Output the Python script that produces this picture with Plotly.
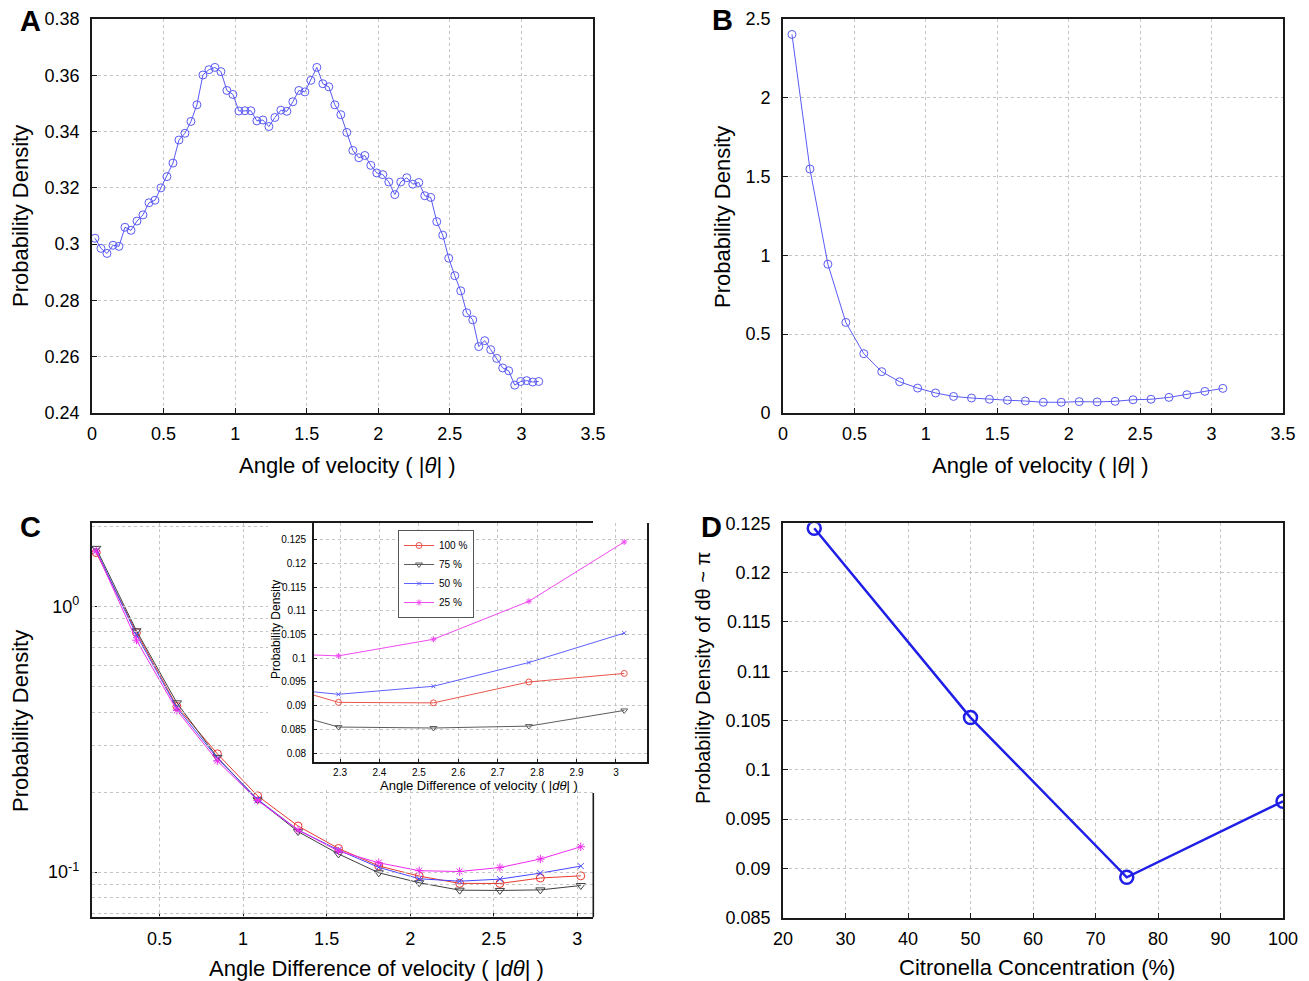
import math
import plotly.graph_objects as go

# ---------------- data ----------------
# Panel A
a_x = [0.0209, 0.0628, 0.1047, 0.1466, 0.1885, 0.2304, 0.2723, 0.3142, 0.3560, 0.3979,
       0.4398, 0.4817, 0.5236, 0.5655, 0.6074, 0.6493, 0.6912, 0.7330, 0.7749, 0.8168,
       0.8587, 0.9006, 0.9425, 0.9844, 1.0263, 1.0681, 1.1100, 1.1519, 1.1938, 1.2357,
       1.2776, 1.3195, 1.3614, 1.4032, 1.4451, 1.4870, 1.5289, 1.5708, 1.6127, 1.6546,
       1.6965, 1.7384, 1.7802, 1.8221, 1.8640, 1.9059, 1.9478, 1.9897, 2.0316, 2.0735,
       2.1153, 2.1572, 2.1991, 2.2410, 2.2829, 2.3248, 2.3667, 2.4086, 2.4504, 2.4923,
       2.5342, 2.5761, 2.6180, 2.6599, 2.7018, 2.7437, 2.7855, 2.8274, 2.8693, 2.9112,
       2.9531, 2.9950, 3.0369, 3.0788, 3.1206]
a_y = [0.3021, 0.2985, 0.2967, 0.2996, 0.2992, 0.3060, 0.3049, 0.3082, 0.3104, 0.3147,
       0.3156, 0.3200, 0.3240, 0.3288, 0.3370, 0.3394, 0.3436, 0.3495, 0.3601, 0.3620,
       0.3628, 0.3613, 0.3546, 0.3532, 0.3473, 0.3474, 0.3474, 0.3438, 0.3441, 0.3418,
       0.3450, 0.3476, 0.3472, 0.3506, 0.3546, 0.3541, 0.3582, 0.3628, 0.3570, 0.3559,
       0.3495, 0.3460, 0.3397, 0.3333, 0.3307, 0.3315, 0.3280, 0.3253, 0.3247, 0.3221,
       0.3176, 0.3221, 0.3236, 0.3213, 0.3219, 0.3172, 0.3166, 0.3080, 0.3032, 0.2950,
       0.2888, 0.2834, 0.2756, 0.2731, 0.2636, 0.2657, 0.2625, 0.2594, 0.2560, 0.2550,
       0.2499, 0.2512, 0.2515, 0.2510, 0.2512]

# Panel B
b_x = [0.0628, 0.1885, 0.3142, 0.4398, 0.5655, 0.6912, 0.8168, 0.9425, 1.0681, 1.1938,
       1.3195, 1.4451, 1.5708, 1.6965, 1.8221, 1.9478, 2.0735, 2.1991, 2.3248, 2.4504,
       2.5761, 2.7018, 2.8274, 2.9531, 3.0788]
b_y = [2.399, 1.546, 0.943, 0.574, 0.376, 0.262, 0.198, 0.158, 0.127, 0.105,
       0.095, 0.087, 0.081, 0.076, 0.068, 0.068, 0.072, 0.070, 0.074, 0.084,
       0.087, 0.099, 0.116, 0.137, 0.156]

# Panel C (main and inset share the same data)
c_x = [0.121, 0.362, 0.604, 0.846, 1.087, 1.329, 1.571, 1.812, 2.054, 2.296, 2.537, 2.779, 3.021]
c_100 = [1.59, 0.796, 0.420, 0.2785, 0.1935, 0.149, 0.1227, 0.1055, 0.0966, 0.0907, 0.0906, 0.0950, 0.0968]
c_75 = [1.65, 0.808, 0.433, 0.270, 0.187, 0.142, 0.117, 0.0994, 0.0912, 0.0855, 0.0853, 0.0857, 0.0890]
c_50 = [1.62, 0.780, 0.415, 0.268, 0.1876, 0.144, 0.121, 0.1042, 0.0944, 0.0924, 0.0941, 0.0991, 0.1053]
c_25 = [1.61, 0.745, 0.406, 0.262, 0.186, 0.144, 0.120, 0.1084, 0.1012, 0.1005, 0.1040, 0.1120, 0.1245]
c_labels = ["100 %", "75 %", "50 %", "25 %"]

# Panel D
d_x = [25, 50, 75, 100]
d_y = [0.1245, 0.1053, 0.0891, 0.0968]

# log-axis ticks for panel C
c_major = [0.1, 1]
c_major_text = ["10<sup>-1</sup>", "10<sup>0</sup>"]
c_minor = [0.07, 0.08, 0.09, 0.2, 0.3, 0.4, 0.5, 0.6, 0.7, 0.8, 0.9, 2]

# ---------------- layout helpers ----------------
W, H = 1309, 981
def fx(p):
    return p / W
def fy(p):
    return 1 - p / H

FONT = "Liberation Sans, Arial, Helvetica, sans-serif"
AXC = "#1a1a1a"
GRID = "#c4c4c4"

def ax(domain, rng, dtick=None, size=18, mirror=True, standoff=7, **kw):
    d = dict(domain=domain, range=rng, showline=True, linecolor=AXC, linewidth=1.6,
             mirror=mirror, ticks="inside", ticklen=5, tickcolor=AXC, tickwidth=1,
             showgrid=True, gridcolor=GRID, griddash="dot", gridwidth=1, zeroline=False,
             ticklabelstandoff=standoff,
             tickfont=dict(size=size, color="black", family=FONT))
    if dtick is not None:
        d["dtick"] = dtick
        d["tick0"] = 0
    d.update(kw)
    return d

def gridonly(domain, rng, **kw):
    d = dict(domain=domain, range=rng, showline=False, ticks="", showticklabels=False,
             showgrid=True, gridcolor=GRID, griddash="dot", gridwidth=1, zeroline=False,
             fixedrange=True)
    d.update(kw)
    return d

fig = go.Figure()

# empty traces so the grid-only helper axes of panel C are drawn
fig.add_trace(go.Scatter(x=[], y=[], xaxis="x6", yaxis="y6", showlegend=False, hoverinfo="skip"))
fig.add_trace(go.Scatter(x=[], y=[], xaxis="x7", yaxis="y7", showlegend=False, hoverinfo="skip"))

blue_ab = "#5a5af5"
fig.add_trace(go.Scatter(x=a_x, y=a_y, mode="lines+markers", xaxis="x", yaxis="y",
                         line=dict(color=blue_ab, width=1),
                         marker=dict(symbol="circle-open", size=8, color=blue_ab, line=dict(width=1)),
                         showlegend=False))
fig.add_trace(go.Scatter(x=b_x, y=b_y, mode="lines+markers", xaxis="x2", yaxis="y2",
                         line=dict(color=blue_ab, width=1),
                         marker=dict(symbol="circle-open", size=8, color=blue_ab, line=dict(width=1)),
                         showlegend=False))

styles = [
    (c_100, "#e8392f", "circle-open", 8),
    (c_75, "#404040", "triangle-down-open", 8),
    (c_50, "#4545ff", "x-thin-open", 6),
    (c_25, "#ee2bee", "asterisk-open", 7),
]
for (vals, col, sym, sz), lab in zip(styles, c_labels):
    fig.add_trace(go.Scatter(x=c_x, y=vals, mode="lines+markers", xaxis="x3", yaxis="y3",
                             line=dict(color=col, width=1),
                             marker=dict(symbol=sym, size=sz, color=col, line=dict(width=1, color=col)),
                             showlegend=False))
for (vals, col, sym, sz), lab in zip(styles, c_labels):
    fig.add_trace(go.Scatter(x=c_x, y=vals, mode="lines+markers", xaxis="x5", yaxis="y5",
                             name=lab, opacity=0.85,
                             line=dict(color=col, width=1),
                             marker=dict(symbol=sym, size=sz - 2, color=col, line=dict(width=1, color=col)),
                             showlegend=True))

fig.add_trace(go.Scatter(x=d_x, y=d_y, mode="lines+markers", xaxis="x4", yaxis="y4",
                         line=dict(color="#1f1fe8", width=2.5),
                         marker=dict(symbol="circle-open", size=13, color="#1f1fe8", line=dict(width=2.5)),
                         showlegend=False))

# domains (pixel positions measured on the reference)
dA_x = [fx(92), fx(593)];   dA_y = [fy(413), fy(19)]
dB_x = [fx(783), fx(1283)]; dB_y = [fy(413), fy(18.5)]
C_L, C_R, C_T, C_B = 91.7, 593.3, 523.3, 917.3
dC_x = [fx(C_L), fx(C_R)]; dC_y = [fy(C_B), fy(C_T)]
dD_x = [fx(783), fx(1283)]; dD_y = [fy(917.7), fy(523.3)]
dI_x = [fx(314), fx(646.7)]; dI_y = [fy(761.7), fy(523)]

c_xr = [0.094, 3.096]
c_yr = [math.log10(0.0676), math.log10(2.05)]
def c_xval(px):
    return c_xr[0] + (px - C_L) / (C_R - C_L) * (c_xr[1] - c_xr[0])
def c_yval(py):
    return c_yr[0] + (C_B - py) / (C_B - C_T) * (c_yr[1] - c_yr[0])

# main-C gridlines are only shown outside the inset area: bottom strip + left strip
STRIP_Y = 790.0
STRIP_X = 268.0

layout = dict(
    width=W, height=H, autosize=False,
    margin=dict(l=0, r=0, t=0, b=0, pad=0, autoexpand=False),
    paper_bgcolor="white", plot_bgcolor="rgba(0,0,0,0)",
    font=dict(family=FONT, color="black"),
    xaxis=ax(dA_x, [0, 3.5], 0.5, anchor="y", standoff=4),
    yaxis=ax(dA_y, [0.24, 0.38], 0.02, anchor="x"),
    xaxis2=ax(dB_x, [0, 3.5], 0.5, anchor="y2", standoff=4),
    yaxis2=ax(dB_y, [0, 2.5], 0.5, anchor="x2"),
    xaxis3=ax(dC_x, c_xr, 0.5, anchor="y3", mirror=True, standoff=4, showgrid=False),
    yaxis3=ax(dC_y, c_yr, None, anchor="x3", mirror=False, showgrid=False,
              type="log", tickmode="array", tickvals=c_major, ticktext=c_major_text,
              minor=dict(tickmode="array", tickvals=c_minor, ticks="inside", ticklen=3,
                         tickcolor=AXC, showgrid=False)),
    xaxis4=ax(dD_x, [20, 100], 10, anchor="y4", standoff=4),
    yaxis4=ax(dD_y, [0.085, 0.125], 0.005, anchor="x4"),
    xaxis5=ax(dI_x, [2.234, 3.078], 0.1, size=10, anchor="y5", mirror=False, ticklen=3, standoff=0),
    yaxis5=ax(dI_y, [0.0782, 0.1285], 0.005, size=10, anchor="x5", mirror=True, ticklen=3, standoff=4),
    # bottom strip grid of panel C
    xaxis6=gridonly(dC_x, c_xr, dtick=0.5, tick0=0, anchor="y6"),
    yaxis6=gridonly([fy(C_B), fy(STRIP_Y)], [c_yr[0], c_yval(STRIP_Y)], anchor="x6", type="log",
                    tickmode="array", tickvals=c_major,
                    minor=dict(tickmode="array", tickvals=c_minor, showgrid=True, gridcolor=GRID,
                               griddash="dot", gridwidth=1, ticks="")),
    # left strip grid of panel C
    xaxis7=gridonly([fx(C_L), fx(STRIP_X)], [c_xr[0], c_xval(STRIP_X)], dtick=0.5, tick0=0, anchor="y7"),
    yaxis7=gridonly([fy(STRIP_Y), fy(C_T)], [c_yval(STRIP_Y), c_yr[1]], anchor="x7", type="log",
                    tickmode="array", tickvals=c_major,
                    minor=dict(tickmode="array", tickvals=c_minor, showgrid=True, gridcolor=GRID,
                               griddash="dot", gridwidth=1, ticks="")),
    legend=dict(x=fx(398), y=fy(530), xanchor="left", yanchor="top",
                bgcolor="white", bordercolor="#555555", borderwidth=1,
                font=dict(size=10, family=FONT, color="black"), tracegroupgap=0),
)
fig.update_layout(**layout)

# main C right border (only the part below the inset)
fig.add_shape(type="line", xref="paper", yref="paper", x0=fx(C_R), x1=fx(C_R),
              y0=fy(C_B), y1=fy(793), line=dict(color=AXC, width=1.6), layer="above")

# titles
def title(text, x, y, size=22, angle=0):
    fig.add_annotation(text=text, x=fx(x), y=fy(y), xref="paper", yref="paper",
                       showarrow=False, textangle=angle, xanchor="center", yanchor="middle",
                       font=dict(size=size, family=FONT, color="black"))

title("Angle of velocity ( |<i>θ</i>| )", 347, 466)
title("Probability Density", 20, 216, angle=-90)
title("Angle of velocity ( |<i>θ</i>| )", 1040, 466)
title("Probability Density", 722, 217, angle=-90)
title("Angle Difference of velocity ( |<i>dθ</i>| )", 376, 968)
title("Probability Density", 20, 721, angle=-90)
title("Citronella Concentration (%)", 1037, 967)
title("Probability Density of dθ ~ π", 703, 678, size=20, angle=-90)
title("Angle Difference of velocity ( |<i>dθ</i>| )", 479, 785, size=13)
title("Probability Density", 276, 630, size=12, angle=-90)

# panel letters
for letter, x, y in [("A", 31, 21), ("B", 723, 20), ("C", 31, 527), ("D", 711, 527)]:
    fig.add_annotation(text="<b>%s</b>" % letter, x=fx(x), y=fy(y), xref="paper", yref="paper",
                       showarrow=False, xanchor="center", yanchor="middle",
                       font=dict(size=29, family=FONT, color="black"))

fig.write_html("out.html")
